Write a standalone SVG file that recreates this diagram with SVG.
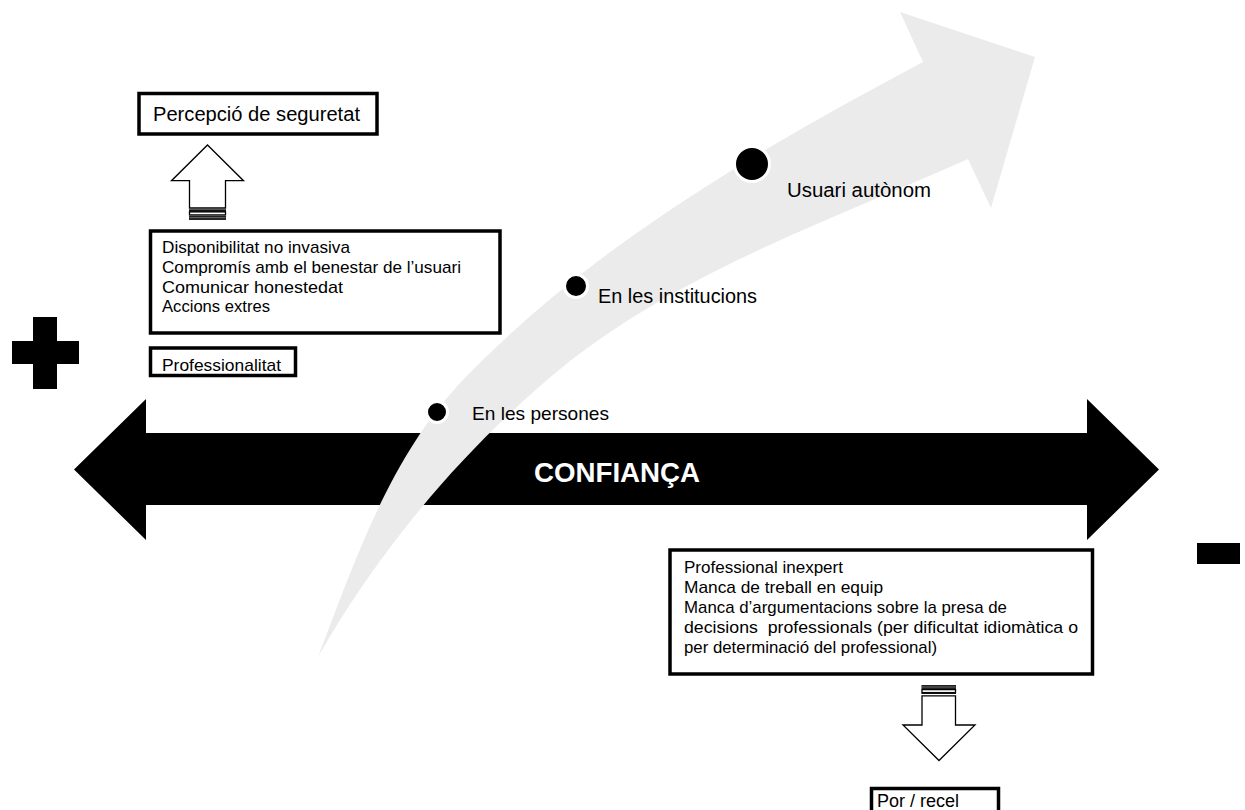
<svg xmlns="http://www.w3.org/2000/svg" width="1245" height="810" viewBox="0 0 1245 810">
  <defs>
    <style>
      .txt { font-family: "Liberation Sans", Arial, sans-serif; fill: #000; }
      .box { fill: #fff; stroke: #000; stroke-width: 3.5; }
      .hollow { fill: #fff; stroke: #000; stroke-width: 1.3; stroke-linejoin: miter; }
      .dot { fill: #000; stroke: #fff; stroke-width: 3; }
      .axis-label { font-family: "Liberation Sans", Arial, sans-serif; font-weight: bold; fill: #fff; }
    </style>
  </defs>

  <rect width="1245" height="810" fill="#fff"/>

  <!-- Trust axis: black double-headed arrow -->
  <g id="confianca-axis">
    <polygon points="74,469.5 146,399 146,433 1087,433 1087,399 1159,469.5 1087,540 1087,505 146,505 146,540" fill="#000"/>
  </g>

  <!-- Curved grey progression arrow -->
  <g id="progression-arrow">
    <path fill="#ebebeb" d="M318,657 C355,560 391,455 463,380 C592,246 759,149 923,62 L900,12 L1035,57 L991,208 L968,159 C824,223 667,277 547,380 C456,458 377,553 318,657 Z"/>
  </g>

  <g id="confianca-label">
    <text class="axis-label" x="534" y="481.5" font-size="28" textLength="166" lengthAdjust="spacingAndGlyphs">CONFIANÇA</text>
  </g>

  <!-- Milestones along the progression arrow -->
  <g id="milestone-persones">
    <circle class="dot" cx="437" cy="412" r="10.5"/>
    <text class="txt" x="472" y="420" font-size="19" textLength="137" lengthAdjust="spacingAndGlyphs">En les persones</text>
  </g>
  <g id="milestone-institucions">
    <circle class="dot" cx="576" cy="286" r="11.5"/>
    <text class="txt" x="598" y="303" font-size="20" textLength="159" lengthAdjust="spacingAndGlyphs">En les institucions</text>
  </g>
  <g id="milestone-usuari">
    <circle class="dot" cx="752" cy="164" r="17.5"/>
    <text class="txt" x="787" y="197" font-size="20" textLength="144" lengthAdjust="spacingAndGlyphs">Usuari autònom</text>
  </g>

  <!-- Positive side -->
  <g id="percepcio-seguretat">
    <rect class="box" x="139" y="93.5" width="238" height="40.5"/>
    <text class="txt" x="153" y="121" font-size="20" textLength="207" lengthAdjust="spacingAndGlyphs">Percepció de seguretat</text>
  </g>

  <g id="factors-positius">
    <rect class="box" x="150.5" y="231" width="349.5" height="102"/>
    <text class="txt" x="162" y="253" font-size="17" textLength="188" lengthAdjust="spacingAndGlyphs">Disponibilitat no invasiva</text>
    <text class="txt" x="162" y="273" font-size="17" textLength="299" lengthAdjust="spacingAndGlyphs">Compromís amb el benestar de l’usuari</text>
    <text class="txt" x="162" y="293" font-size="17" textLength="181" lengthAdjust="spacingAndGlyphs">Comunicar honestedat</text>
    <text class="txt" x="162" y="312" font-size="17" textLength="108" lengthAdjust="spacingAndGlyphs">Accions extres</text>
  </g>

  <g id="professionalitat">
    <rect class="box" x="150.5" y="348" width="145" height="27.5"/>
    <text class="txt" x="162" y="371" font-size="17" textLength="119" lengthAdjust="spacingAndGlyphs">Professionalitat</text>
  </g>

  <!-- Negative side -->
  <g id="factors-negatius">
    <rect class="box" x="670" y="550" width="422.5" height="124"/>
    <text class="txt" x="684" y="573" font-size="17" textLength="159" lengthAdjust="spacingAndGlyphs">Professional inexpert</text>
    <text class="txt" x="684" y="593" font-size="17" textLength="199" lengthAdjust="spacingAndGlyphs">Manca de treball en equip</text>
    <text class="txt" x="684" y="613" font-size="17" textLength="323" lengthAdjust="spacingAndGlyphs">Manca d’argumentacions sobre la presa de</text>
    <text class="txt" x="684" y="633" font-size="17" textLength="394" lengthAdjust="spacingAndGlyphs" xml:space="preserve">decisions  professionals (per dificultat idiomàtica o</text>
    <text class="txt" x="684" y="653" font-size="17" textLength="253" lengthAdjust="spacingAndGlyphs">per determinació del professional)</text>
  </g>

  <g id="por-recel">
    <rect class="box" x="871.5" y="788.5" width="127" height="40"/>
    <text class="txt" x="877" y="807" font-size="18" textLength="82" lengthAdjust="spacingAndGlyphs">Por / recel</text>
  </g>

  <!-- Striped block arrows linking the boxes -->
  <g id="connectors">
    <g id="arrow-up">
      <polygon class="hollow" points="207.5,145 243.5,180.7 225.5,180.7 225.5,208 189.5,208 189.5,180.7 171.5,180.7"/>
      <rect x="189" y="209.3" width="37" height="2.6" fill="#111"/>
      <rect class="hollow" x="189.5" y="211.9" width="36" height="3"/>
      <rect x="189" y="215.5" width="37" height="4.5" fill="#222"/>
      <line x1="189.5" y1="217.6" x2="225.5" y2="217.6" stroke="#777" stroke-width="0.8"/>
    </g>
    <g id="arrow-down">
      <rect x="921.5" y="685" width="34.5" height="4.3" fill="#222"/>
      <line x1="922" y1="687" x2="955.5" y2="687" stroke="#777" stroke-width="0.8"/>
      <rect class="hollow" x="922" y="689.6" width="33.5" height="3"/>
      <rect x="921.5" y="692.6" width="34.5" height="1.4" fill="#111"/>
      <polygon class="hollow" points="922,695.8 955.5,695.8 955.5,725 975,725 939,760.5 903,725 922,725"/>
    </g>
  </g>

  <!-- Plus and minus signs marking the ends of the axis -->
  <g id="sign-plus">
    <rect x="33" y="317" width="24" height="72" fill="#000"/>
    <rect x="12" y="341" width="67" height="23" fill="#000"/>
  </g>
  <g id="sign-minus">
    <rect x="1197" y="543" width="43" height="21" fill="#000"/>
  </g>
</svg>
